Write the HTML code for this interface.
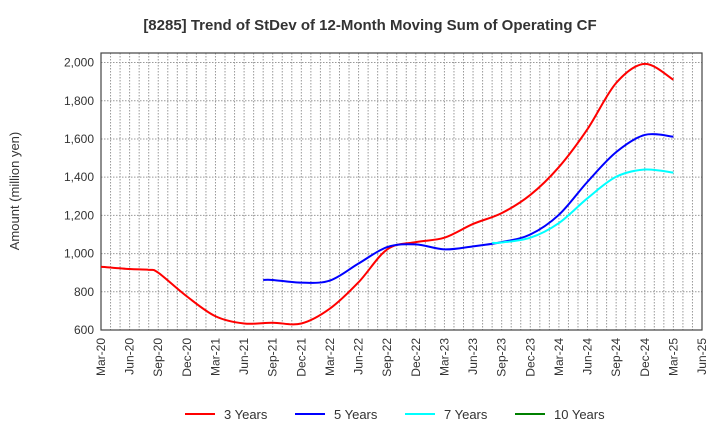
<!DOCTYPE html>
<html><head><meta charset="utf-8"><style>
body{margin:0;background:#fff;font-family:"Liberation Sans",sans-serif}
svg text{font-family:"Liberation Sans",sans-serif}
</style></head><body>
<svg id="c" width="720" height="440" xmlns="http://www.w3.org/2000/svg"></svg>
<script>
const xLabels=["Mar-20","Jun-20","Sep-20","Dec-20","Mar-21","Jun-21","Sep-21","Dec-21","Mar-22","Jun-22","Sep-22","Dec-22","Mar-23","Jun-23","Sep-23","Dec-23","Mar-24","Jun-24","Sep-24","Dec-24","Mar-25","Jun-25"];
const yTicks=[600,800,1000,1200,1400,1600,1800,2000];
// month index from Mar-20
const m3=[0,3,5,6,9,12,15,18,21,24,27,30,33,36,39,42,45,48,51,54,57,60];
const v3=[931,919,915,900,776,672,634,638,634,712,850,1022,1060,1083,1155,1212,1307,1453,1652,1893,1993,1910];
const m5=[17,18,21,24,27,30,33,36,39,42,45,48,51,54,57,60];
const v5=[862,862,848,859,948,1034,1048,1022,1038,1060,1100,1203,1376,1531,1621,1612];
const m7=[41,42,45,48,51,54,57,60];
const v7=[1056,1058,1083,1160,1290,1402,1440,1424];
const m10=[];const v10=[];
const series=[{n:"3 Years",c:"#ff0000",m:m3,v:v3},{n:"5 Years",c:"#0000ff",m:m5,v:v5},{n:"7 Years",c:"#00ffff",m:m7,v:v7},{n:"10 Years",c:"#008000",m:m10,v:v10}];
const L=101,R=702,T=53,B=330,yMin=600,yMax=2050;
const xs=m=>L+m*(R-L)/63;
const ys=v=>B-(v-yMin)/(yMax-yMin)*(B-T);
const svg=document.getElementById('c');const NS="http://www.w3.org/2000/svg";
function mk(t,a,p){const e=document.createElementNS(NS,t);for(const k in a)e.setAttribute(k,a[k]);(p||svg).appendChild(e);return e;}
let g=mk('g',{});


for(let m=1;m<63;m++){const l=mk('line',{x1:xs(m),x2:xs(m),y1:T,y2:B,stroke:'#999','stroke-dasharray':'1.5,1.5','stroke-width':1},g);}
yTicks.forEach(v=>{if(v>yMin)mk('line',{x1:L,x2:R,y1:ys(v),y2:ys(v),stroke:'#999','stroke-dasharray':'1.5,1.5'},g);});
const fr=mk('rect',{x:L,y:T,width:R-L,height:B-T,fill:'none',stroke:'#444','stroke-width':1.2});


yTicks.forEach(v=>{const t=mk('text',{x:L-7,y:ys(v)+4,'text-anchor':'end','font-size':12,fill:'#333'});t.textContent=v.toLocaleString('en-US');

});
xLabels.forEach((s,i)=>{const x=xs(i*3);const t=mk('text',{transform:`translate(${x+4},${B+8}) rotate(-90)`,'text-anchor':'end','font-size':12,fill:'#333'});t.textContent=s;

});
function path(ms,vs){const p=ms.map((m,i)=>[xs(m),ys(vs[i])]);if(!p.length)return'';let d=`M${p[0][0]},${p[0][1]}`;for(let i=0;i<p.length-1;i++){const p0=p[i-1]||p[i],p1=p[i],p2=p[i+1],p3=p[i+2]||p2;d+=` C${p1[0]+(p2[0]-p0[0])/6},${p1[1]+(p2[1]-p0[1])/6} ${p2[0]-(p3[0]-p1[0])/6},${p2[1]-(p3[1]-p1[1])/6} ${p2[0]},${p2[1]}`;}return d;}
series.forEach((s,i)=>{if(s.m.length){const p=mk('path',{d:path(s.m,s.v),fill:'none',stroke:s.c,'stroke-width':2});

}
const lx=185+i*110;
const lg=mk('g',{});


mk('line',{x1:lx,x2:lx+30,y1:414,y2:414,stroke:s.c,'stroke-width':2},lg);
const t=mk('text',{x:lx+39,y:419,'font-size':13,fill:'#333'},lg);t.textContent=s.n;});
const ti=mk('text',{x:370,y:30,'text-anchor':'middle','font-size':15,'font-weight':'bold',fill:'#333'});ti.textContent="[8285]  Trend of StDev of 12-Month Moving Sum of Operating CF";


const yt=mk('text',{transform:'translate(19,191) rotate(-90)','text-anchor':'middle','font-size':13,fill:'#333'});yt.textContent="Amount (million yen)";


</script>
</body></html>
